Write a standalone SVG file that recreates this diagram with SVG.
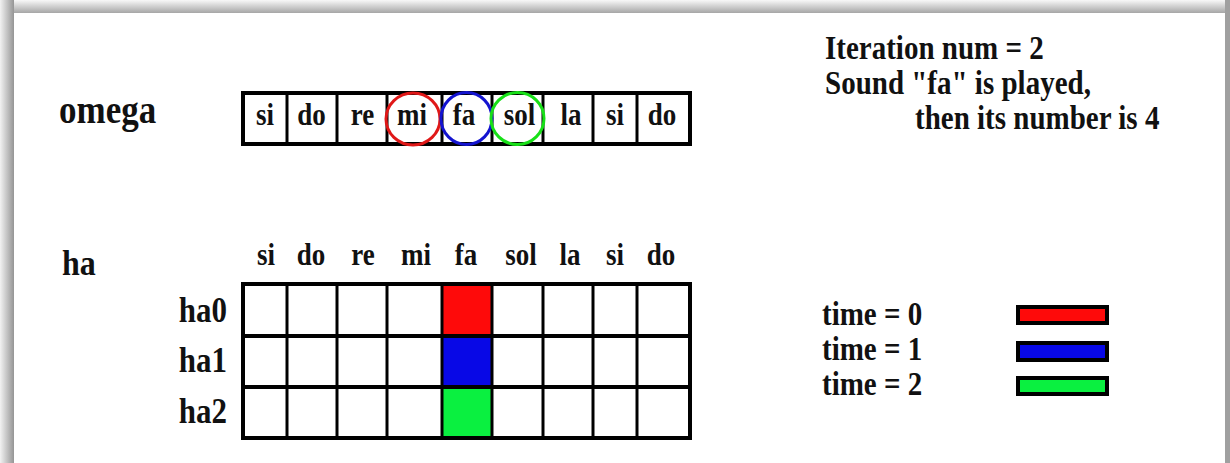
<svg xmlns="http://www.w3.org/2000/svg" width="1230" height="463" viewBox="0 0 1230 463">
<defs>
<linearGradient id="gTop" x1="0" y1="0" x2="0" y2="1"><stop offset="0" stop-color="#f8f8f8"/><stop offset="1" stop-color="#a6a6a6"/></linearGradient>
<linearGradient id="gLeft" x1="0" y1="0" x2="1" y2="0"><stop offset="0" stop-color="#f2f2f2"/><stop offset="1" stop-color="#959595"/></linearGradient>
<style>
text{font-family:"Liberation Serif","Times New Roman",serif;font-weight:bold;fill:#111}
.big{font-size:35px}
.lbl{font-size:29px}
.row{font-size:31px;text-anchor:end}
.cell{font-size:27px;text-anchor:middle}
.thick{stroke:#000;stroke-width:4;fill:none}
.thin{stroke:#000;stroke-width:3;fill:none}
.ring{fill:none;stroke-width:3}
.bar{stroke:#000;stroke-width:4}
</style>
</defs>
<g id="frame">
<rect x="0" y="0" width="1230" height="463" fill="#ffffff"/>
<rect x="0" y="0" width="1230" height="13" fill="url(#gTop)"/>
<rect x="0" y="0" width="14" height="463" fill="url(#gLeft)"/>
<rect x="1225" y="0" width="5" height="463" fill="#a0a0a0"/>
<rect x="14" y="13" width="1211" height="450" fill="#ffffff"/>
</g>
<g id="omega-label"><text class="big" transform="translate(59 123) scale(1 1.15)">omega</text></g>
<g id="omega-array">
<g class="thin">
<line x1="287" y1="93" x2="287" y2="144"/><line x1="337" y1="93" x2="337" y2="144"/><line x1="387" y1="93" x2="387" y2="144"/><line x1="442" y1="93" x2="442" y2="144"/><line x1="492" y1="93" x2="492" y2="144"/><line x1="543" y1="93" x2="543" y2="144"/><line x1="593" y1="93" x2="593" y2="144"/><line x1="637" y1="93" x2="637" y2="144"/>
</g>
<rect class="thick" x="243" y="93" width="447" height="51"/>
<g transform="translate(0 125) scale(1 1.15)">
<text class="cell" x="265" y="0">si</text><text class="cell" x="311.5" y="0">do</text><text class="cell" x="362.5" y="0">re</text><text class="cell" x="412" y="0">mi</text><text class="cell" x="464" y="0">fa</text><text class="cell" x="519.5" y="0">sol</text><text class="cell" x="571" y="0">la</text><text class="cell" x="615" y="0">si</text><text class="cell" x="662" y="0">do</text>
</g>
<ellipse class="ring" cx="413" cy="119" rx="27" ry="26" stroke="#e01818"/>
<ellipse class="ring" cx="466.5" cy="118.5" rx="25.5" ry="26" stroke="#1414d0"/>
<ellipse class="ring" cx="517.5" cy="118.5" rx="26.5" ry="26" stroke="#18e018"/>
</g>
<g id="info-text">
<text class="lbl" transform="translate(825 59) scale(1 1.15)">Iteration num = 2</text>
<text class="lbl" transform="translate(825 94) scale(1 1.15)">Sound "fa" is played,</text>
<text class="lbl" transform="translate(915 129) scale(1 1.15)">then its number is 4</text>
</g>
<g id="ha-label"><text class="big" transform="translate(62 275) scale(1 1.15)" style="font-size:32px">ha</text></g>
<g id="ha-header" transform="translate(0 265) scale(1 1.15)">
<text class="cell" x="266" y="0">si</text><text class="cell" x="311" y="0">do</text><text class="cell" x="363" y="0">re</text><text class="cell" x="416" y="0">mi</text><text class="cell" x="466" y="0">fa</text><text class="cell" x="521" y="0">sol</text><text class="cell" x="570" y="0">la</text><text class="cell" x="615" y="0">si</text><text class="cell" x="661" y="0">do</text>
</g>
<g id="ha-rows">
<text class="row" transform="translate(227 322) scale(1 1.15)">ha0</text>
<text class="row" transform="translate(227 372) scale(1 1.15)">ha1</text>
<text class="row" transform="translate(227 423) scale(1 1.15)">ha2</text>
</g>
<g id="ha-table">
<rect x="443" y="285" width="48" height="51" fill="#fe0a0a"/>
<rect x="443" y="336" width="48" height="51" fill="#0808e6"/>
<rect x="443" y="387" width="48" height="51" fill="#0af040"/>
<g class="thin">
<line x1="287" y1="284" x2="287" y2="438"/><line x1="337" y1="284" x2="337" y2="438"/><line x1="387" y1="284" x2="387" y2="438"/><line x1="442" y1="284" x2="442" y2="438"/><line x1="492" y1="284" x2="492" y2="438"/><line x1="543" y1="284" x2="543" y2="438"/><line x1="593" y1="284" x2="593" y2="438"/><line x1="637" y1="284" x2="637" y2="438"/>
</g>
<g class="thick">
<line x1="243" y1="336" x2="690" y2="336"/><line x1="243" y1="387" x2="690" y2="387"/>
</g>
<rect class="thick" x="243" y="284" width="447" height="154"/>
</g>
<g id="legend">
<text class="lbl" transform="translate(822 325) scale(1 1.15)">time = 0</text>
<text class="lbl" transform="translate(822 360) scale(1 1.15)">time = 1</text>
<text class="lbl" transform="translate(822 395) scale(1 1.15)">time = 2</text>
<rect class="bar" x="1018" y="307" width="89" height="16" fill="#fe0a0a"/>
<rect class="bar" x="1018" y="343" width="89" height="17" fill="#0808e6"/>
<rect class="bar" x="1018" y="378" width="89" height="16" fill="#0af040"/>
</g>
</svg>
